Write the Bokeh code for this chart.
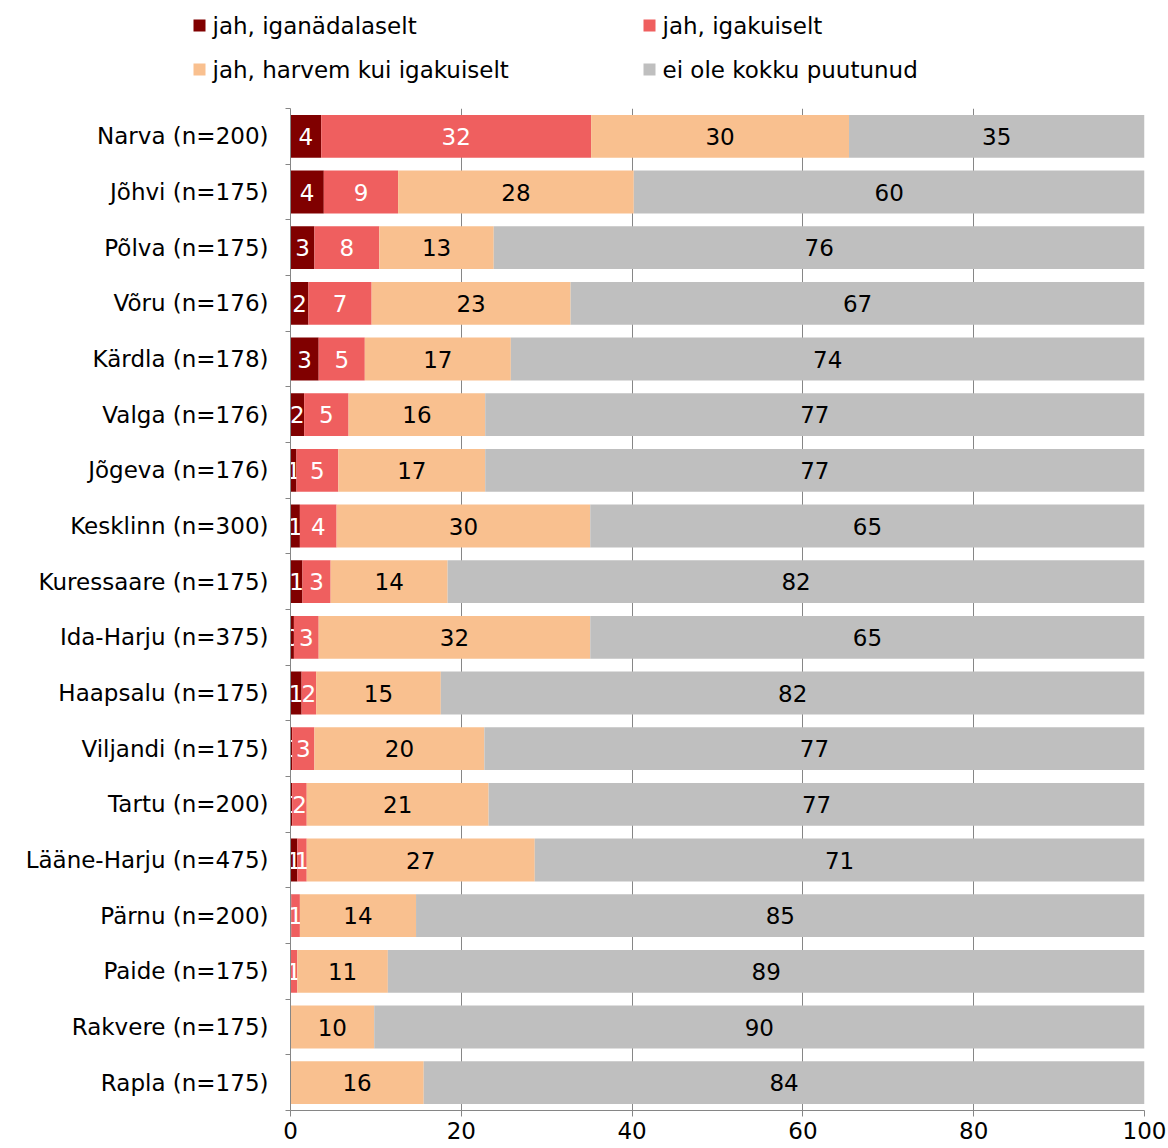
import numpy as np
from bokeh.plotting import figure
from bokeh.layouts import column
from bokeh.models import ColumnDataSource, Range1d, FixedTicker
from bokeh.core.properties import value
from bokeh.embed import file_html
from bokeh.resources import INLINE

categories = ["Narva (n=200)", "Jõhvi (n=175)", "Põlva (n=175)", "Võru (n=176)",
              "Kärdla (n=178)", "Valga (n=176)", "Jõgeva (n=176)", "Kesklinn (n=300)",
              "Kuressaare (n=175)", "Ida-Harju (n=375)", "Haapsalu (n=175)",
              "Viljandi (n=175)", "Tartu (n=200)", "Lääne-Harju (n=475)",
              "Pärnu (n=200)", "Paide (n=175)", "Rakvere (n=175)", "Rapla (n=175)"]
weekly  = [3.6, 3.9, 2.8, 2.1, 3.3, 1.6, 0.7, 1.1, 1.4, 0.4, 1.3, 0.2, 0.2, 0.8, 0.1, 0.0, 0.0, 0.0]
monthly = [31.6, 8.7, 7.6, 7.4, 5.4, 5.2, 4.9, 4.3, 3.3, 2.9, 1.7, 2.6, 1.7, 1.1, 1.0, 0.8, 0.0, 0.0]
rarely  = [30.2, 27.6, 13.4, 23.3, 17.1, 16.0, 17.2, 29.7, 13.7, 31.8, 14.6, 19.9, 21.3, 26.7, 13.6, 10.6, 9.8, 15.6]
never   = [34.6, 59.8, 76.2, 67.2, 74.2, 77.2, 77.2, 64.9, 81.6, 64.9, 82.4, 77.3, 76.8, 71.4, 85.3, 88.6, 90.2, 84.4]
series_names = ["jah, iganädalaselt", "jah, igakuiselt",
                "jah, harvem kui igakuiselt", "ei ole kokku puutunud"]
x_ticks = [0, 20, 40, 60, 80, 100]

colors = ["#800000", "#EF5F5F", "#F9C08F", "#BFBFBF"]
label_colors = ["white", "white", "black", "black"]
FONT = value("DejaVu Sans")
FS = value("23px")
W = 1168
AXC = "#868686"

# ---------- legend strip (pixel coordinates) ----------
LH = 100
leg = figure(width=W, height=LH, x_range=Range1d(0, W), y_range=Range1d(LH, 0),
             toolbar_location=None, output_backend="svg", min_border=0,
             x_axis_location=None, y_axis_location=None, frame_align=False)
leg.grid.visible = False
leg.outline_line_color = None
lsrc = ColumnDataSource(dict(
    x=[199, 649, 199, 649], y=[25, 25, 69, 69],
    tx=[212, 662, 212, 662], name=series_names, color=colors))
leg.rect(x="x", y="y", width=12, height=12, fill_color="color", line_color=None, source=lsrc)
leg.text(x="tx", y="y", text="name", text_font=FONT, text_font_size=FS,
         text_baseline="middle", text_align="left", text_color="black", source=lsrc)

# ---------- main chart ----------
TOP, BOTTOM, LEFT, RIGHT = 8, 38, 290, 24
n = len(categories)
ys = list(range(n))
p = figure(width=W, height=1148 - LH, x_range=Range1d(0, 100), y_range=Range1d(n - 0.5, -0.5),
           toolbar_location=None, output_backend="svg", frame_align=False,
           min_border_left=LEFT, min_border_right=RIGHT,
           min_border_top=TOP, min_border_bottom=BOTTOM)
p.outline_line_color = None

series = [weekly, monthly, rarely, never]
left = np.zeros(n)
for vals, col, lcol in zip(series, colors, label_colors):
    v = np.array(vals)
    right = left + v
    src = ColumnDataSource(dict(y=ys, left=left, right=right,
                                cx=(left + right) / 2,
                                lab=[f"{x:.0f}" for x in v]))
    p.hbar(y="y", left="left", right="right", height=0.77, fill_color=col,
           line_color=None, source=src)
    p.text(x="cx", y="y", text="lab", text_font=FONT, text_font_size=FS,
           text_align="center", text_baseline="middle", text_color=lcol, source=src)
    left = right

p.ygrid.visible = False
p.xgrid.ticker = FixedTicker(ticks=x_ticks)
p.xgrid.grid_line_color = AXC

p.xaxis.ticker = FixedTicker(ticks=x_ticks)
p.xaxis.major_tick_out = 6
p.xaxis.major_tick_in = 0
p.xaxis.minor_tick_out = 0
p.xaxis.minor_tick_in = 0
p.xaxis.major_label_standoff = 5

p.yaxis.ticker = FixedTicker(ticks=ys, minor_ticks=[i - 0.5 for i in range(n + 1)])
p.yaxis.major_label_overrides = {i: c for i, c in enumerate(categories)}
p.yaxis.major_tick_out = 0
p.yaxis.major_tick_in = 0
p.yaxis.minor_tick_out = 5
p.yaxis.minor_tick_in = 0
p.yaxis.minor_tick_line_color = AXC
p.yaxis.major_label_standoff = 17

for ax in (p.xaxis, p.yaxis):
    ax.axis_line_color = AXC
    ax.major_tick_line_color = AXC
    ax.major_label_text_font = "DejaVu Sans"
    ax.major_label_text_font_size = "23px"
    ax.major_label_text_color = "black"

layout = column(leg, p, spacing=0)
open("out.html", "w").write(file_html(layout, INLINE))
